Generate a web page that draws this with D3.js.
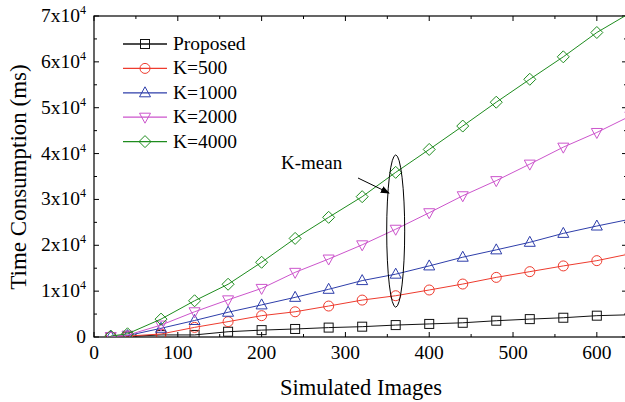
<!DOCTYPE html>
<html>
<head>
<meta charset="utf-8">
<script src="https://cdn.jsdelivr.net/npm/d3@7"></script>
<style>
  body { margin: 0; background: #fff; }
  svg text { font-family: "Liberation Serif", "Times New Roman", serif; }
</style>
</head>
<body>
<div id="chart"></div>
<script>
// data
const images = [20, 40, 80, 120, 160, 200, 240, 280, 320, 360, 400, 440, 480, 520, 560, 600, 640];
const proposed = [0, 100, 450, 450, 1150, 1500, 1750, 2050, 2250, 2600, 2850, 3100, 3550, 3900, 4200, 4650, 4850];
const k500 = [50, 200, 650, 2100, 3350, 4650, 5500, 6750, 8050, 9000, 10250, 11550, 13000, 14250, 15500, 16650, 18150];
const k1000 = [100, 300, 1900, 3600, 5400, 7000, 8650, 10400, 12300, 13700, 15500, 17400, 19000, 20650, 22600, 24200, 25700];
const k2000 = [100, 400, 2600, 5500, 8100, 10600, 14100, 17000, 20100, 23500, 27100, 30800, 34100, 37700, 41400, 44600, 48200];
const k4000 = [200, 700, 3900, 7900, 11500, 16300, 21500, 26100, 30600, 35900, 40900, 46000, 51200, 56200, 61100, 66400, 70700];
const seriesNames = ["Proposed", "K=500", "K=1000", "K=2000", "K=4000"];
const xTicks = [0, 100, 200, 300, 400, 500, 600];
const yTicks = [0, 10000, 20000, 30000, 40000, 50000, 60000, 70000];

const width = 625, height = 402,
      margin = ({ top: 16, right: -2, bottom: 65, left: 94 });

const series = [
  { name: seriesNames[0], values: proposed, color: "#111111", symbol: "square" },
  { name: seriesNames[1], values: k500, color: "#ee3b2e", symbol: "circle" },
  { name: seriesNames[2], values: k1000, color: "#2e3eaa", symbol: "triUp" },
  { name: seriesNames[3], values: k2000, color: "#cc55cc", symbol: "triDown" },
  { name: seriesNames[4], values: k4000, color: "#1e8c1e", symbol: "diamond" }
];

let svg = d3.select("#chart")
  .append("svg")
  .attr("width", width)
  .attr("height", height);

let x = d3.scaleLinear()
  .domain([0, 636])
  .range([margin.left, width - margin.right]);

let y = d3.scaleLinear()
  .domain([0, 70000])
  .range([height - margin.bottom, margin.top]);

const x0 = x.range()[0], x1 = x.range()[1];
const y0 = y.range()[0], y1 = y.range()[1];

svg.append("clipPath").attr("id", "clip")
  .append("rect")
  .attr("x", x0).attr("y", y1)
  .attr("width", x1 - x0).attr("height", y0 - y1);

// frame
svg.append("rect")
  .attr("x", x0).attr("y", y1)
  .attr("width", x1 - x0).attr("height", y0 - y1)
  .attr("fill", "none")
  .attr("stroke", "#000")
  .attr("stroke-width", 1.2);

// minor ticks every 50 / 5000
const xMinor = d3.range(50, 636, 100);
const yMinor = d3.range(5000, 70000, 10000);

function tickLines(g, vals, fn) {
  g.selectAll("line").data(vals).join("line").each(fn)
    .attr("stroke", "#000").attr("stroke-width", 1);
}

let ticks = svg.append("g");
// bottom & top (inward)
tickLines(ticks.append("g"), xTicks, function(d) {
  d3.select(this).attr("x1", x(d)).attr("x2", x(d)).attr("y1", y0).attr("y2", y0 - 5);
});
tickLines(ticks.append("g"), xMinor, function(d) {
  d3.select(this).attr("x1", x(d)).attr("x2", x(d)).attr("y1", y0).attr("y2", y0 - 3);
});
tickLines(ticks.append("g"), xTicks, function(d) {
  d3.select(this).attr("x1", x(d)).attr("x2", x(d)).attr("y1", y1).attr("y2", y1 + 5);
});
tickLines(ticks.append("g"), xMinor, function(d) {
  d3.select(this).attr("x1", x(d)).attr("x2", x(d)).attr("y1", y1).attr("y2", y1 + 3);
});
// left & right (inward)
tickLines(ticks.append("g"), yTicks, function(d) {
  d3.select(this).attr("x1", x0).attr("x2", x0 + 5).attr("y1", y(d)).attr("y2", y(d));
});
tickLines(ticks.append("g"), yMinor, function(d) {
  d3.select(this).attr("x1", x0).attr("x2", x0 + 3).attr("y1", y(d)).attr("y2", y(d));
});
tickLines(ticks.append("g"), yTicks, function(d) {
  d3.select(this).attr("x1", x1).attr("x2", x1 - 5).attr("y1", y(d)).attr("y2", y(d));
});
tickLines(ticks.append("g"), yMinor, function(d) {
  d3.select(this).attr("x1", x1).attr("x2", x1 - 3).attr("y1", y(d)).attr("y2", y(d));
});

// tick labels
svg.append("g").selectAll("text").data(xTicks).join("text")
  .attr("x", d => x(d))
  .attr("y", y0 + 22)
  .attr("text-anchor", "middle")
  .style("font-size", "19.5px")
  .text(d => d);

let yl = svg.append("g").selectAll("text").data(yTicks).join("text")
  .attr("x", x0 - 8)
  .attr("y", d => y(d) + 6)
  .attr("text-anchor", "end")
  .style("font-size", "19.5px");
yl.each(function(d) {
  let t = d3.select(this);
  if (d === 0) { t.text("0"); return; }
  t.append("tspan").text((d / 10000) + "x10");
  t.append("tspan").attr("dy", -8).style("font-size", "12px").text("4");
});

// axis titles
svg.append("text")
  .attr("x", 361)
  .attr("y", 395)
  .attr("text-anchor", "middle")
  .style("font-size", "22.5px")
  .text("Simulated Images");

svg.append("text")
  .attr("transform", `translate(26,177) rotate(-90)`)
  .attr("text-anchor", "middle")
  .style("font-size", "23px")
  .text("Time Consumption (ms)");

// hollow markers
function marker(g, type, color) {
  if (type === "square") {
    g.append("rect").attr("x", -4.5).attr("y", -4.5).attr("width", 9).attr("height", 9);
  } else if (type === "circle") {
    g.append("circle").attr("r", 5);
  } else if (type === "triUp") {
    g.append("path").attr("d", "M0,-6L5.5,4L-5.5,4Z");
  } else if (type === "triDown") {
    g.append("path").attr("d", "M0,6L5.5,-4L-5.5,-4Z");
  } else {
    g.append("path").attr("d", "M0,-6L6,0L0,6L-6,0Z");
  }
  g.selectAll("*").attr("fill", "none").attr("stroke", color).attr("stroke-width", 1);
}

let plot = svg.append("g").attr("clip-path", "url(#clip)");

let line = d3.line()
  .x((d, i) => x(images[i]))
  .y(d => y(d));

series.forEach(s => {
  plot.append("path")
    .attr("d", line(s.values))
    .attr("fill", "none")
    .attr("stroke", s.color)
    .attr("stroke-width", 1);
  s.values.forEach((v, i) => {
    let g = plot.append("g").attr("transform", `translate(${x(images[i])},${y(v)})`);
    marker(g, s.symbol, s.color);
  });
});

// K-mean annotation
svg.append("ellipse")
  .attr("cx", x(360))
  .attr("cy", y(23100))
  .attr("rx", 9)
  .attr("ry", y(0) - y(16600))
  .attr("fill", "none")
  .attr("stroke", "#000")
  .attr("stroke-width", 1);

svg.append("defs").append("marker")
  .attr("id", "arrow")
  .attr("viewBox", "0 0 10 10")
  .attr("refX", 9).attr("refY", 5)
  .attr("markerWidth", 9).attr("markerHeight", 9)
  .attr("markerUnits", "userSpaceOnUse")
  .attr("orient", "auto")
  .append("path").attr("d", "M0,1L10,5L0,9Z").attr("fill", "#000");

svg.append("line")
  .attr("x1", 358).attr("y1", 178)
  .attr("x2", 389).attr("y2", 193)
  .attr("stroke", "#000")
  .attr("stroke-width", 1)
  .attr("marker-end", "url(#arrow)");

svg.append("text")
  .attr("x", 281)
  .attr("y", 169)
  .style("font-size", "19px")
  .text("K-mean");

// legend
let legend = svg.append("g");
series.forEach((s, i) => {
  let ly = 44 + i * 24.4;
  legend.append("line")
    .attr("x1", 123).attr("x2", 167)
    .attr("y1", ly).attr("y2", ly)
    .attr("stroke", s.color).attr("stroke-width", 1.3);
  let g = legend.append("g").attr("transform", `translate(145,${ly})`);
  marker(g, s.symbol, s.color);
  legend.append("text")
    .attr("x", 173)
    .attr("y", ly + 6)
    .style("font-size", "19.5px")
    .text(s.name);
});
</script>
</body>
</html>
